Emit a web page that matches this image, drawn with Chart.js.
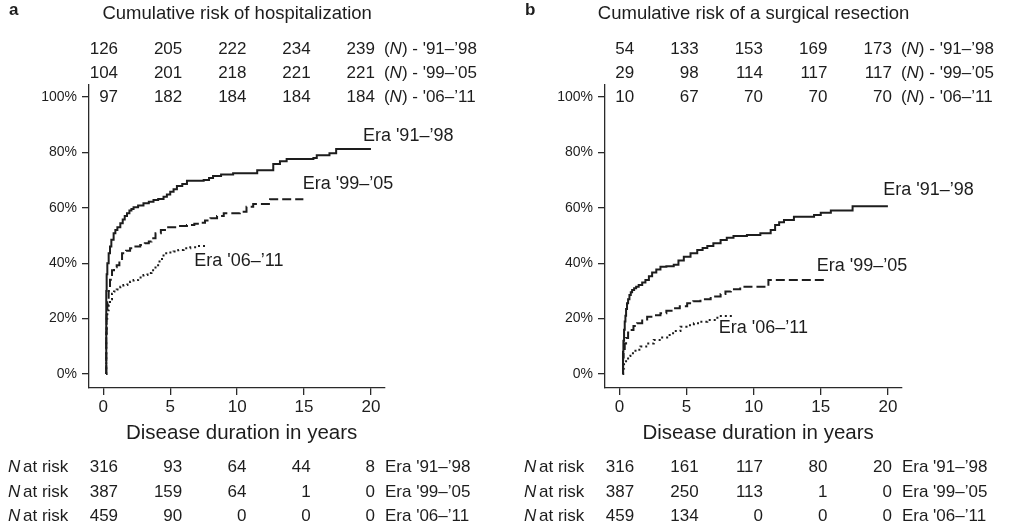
<!DOCTYPE html>
<html>
<head>
<meta charset="utf-8">
<script src="https://cdn.jsdelivr.net/npm/chart.js@4.4.1/dist/chart.umd.min.js"></script>
<style>
  html, body { margin: 0; padding: 0; background: #fff; }
  #wrap { position: relative; width: 1019px; height: 527px; }
  canvas { position: absolute; top: 0; }
</style>
</head>
<body>
<div id="wrap">
  <canvas id="chart-a" width="510" height="527" style="left:0px"></canvas>
  <canvas id="chart-b" width="503" height="527" style="left:516px"></canvas>
</div>
<script>
// years and % from the picture
const eraLabels = ["Era '91–’98", "Era '99–’05", "Era '06–’11"];
const eraShort = ["'91–’98", "'99–’05", "'06–’11"];
const xTicks = [0, 5, 10, 15, 20];
const yTicks = [0, 20, 40, 60, 80, 100];

// a - hospitalization
const hosp91X = [0.2, 0.22, 0.25, 0.3, 0.4, 0.5, 0.6, 0.77, 0.9, 1.05, 1.27, 1.45, 1.6, 1.77, 1.95, 2.1, 2.26, 2.6, 3.0, 3.4, 3.75, 4.1, 4.5, 4.75, 5.0, 5.25, 5.5, 5.9, 6.25, 7.5, 7.9, 8.2, 8.8, 9.7, 11.5, 12.5, 12.7, 13.2, 13.7, 15.7, 15.95, 16.9, 17.4, 20.0];
const hosp91Y = [0, 30, 36, 40, 43.6, 46, 48.5, 50.8, 52, 53, 54.4, 55.8, 57, 58, 59, 59.6, 60.2, 60.8, 61.6, 62.2, 62.8, 63.2, 64, 64.8, 65.8, 66.7, 67.9, 68.6, 69.8, 70, 70.8, 71.5, 72, 72.5, 73.6, 73.6, 75.8, 76.8, 77.6, 78, 79, 79.7, 81.2, 81.2];
const hosp99X = [0.2, 0.22, 0.25, 0.3, 0.4, 0.5, 0.65, 0.8, 1.0, 1.2, 1.4, 1.7, 2.0, 2.4, 2.76, 3.1, 3.4, 3.6, 3.9, 4.3, 4.75, 5.5, 6.25, 6.8, 7.2, 7.6, 8.0, 8.5, 9.0, 10.2, 10.7, 11.2, 12.46, 14.95];
const hosp99Y = [0, 15, 22, 27, 30, 34, 37.5, 38.5, 39.3, 41.5, 43.6, 44.5, 45.4, 46, 46.6, 47.2, 47.8, 49, 50.8, 52, 53, 53.4, 53.8, 54.2, 54.6, 55.4, 56.2, 57, 58, 58.6, 60.4, 61.4, 63.1, 63.1];
const hosp06X = [0.2, 0.22, 0.25, 0.3, 0.4, 0.5, 0.65, 0.8, 1.0, 1.27, 1.5, 1.8, 2.0, 2.26, 2.6, 3.0, 3.3, 3.6, 3.9, 4.2, 4.5, 4.9, 5.25, 5.6, 6.0, 6.5, 7.0, 7.8];
const hosp06Y = [0, 14, 20, 23, 25, 27, 29, 29.8, 30.5, 31.5, 32.1, 32.8, 33.3, 33.9, 34.8, 35.7, 36.5, 37.5, 39.3, 41.5, 43.6, 43.9, 44.2, 44.8, 45.4, 45.8, 46.2, 46.2];
const hospN91 = [126, 205, 222, 234, 239];
const hospN99 = [104, 201, 218, 221, 221];
const hospN06 = [97, 182, 184, 184, 184];
const hospRisk91 = [316, 93, 64, 44, 8];
const hospRisk99 = [387, 159, 64, 1, 0];
const hospRisk06 = [459, 90, 0, 0, 0];

// b - surgical resection
const surg91X = [0.25, 0.27, 0.3, 0.35, 0.4, 0.45, 0.5, 0.57, 0.65, 0.75, 0.85, 0.95, 1.1, 1.25, 1.44, 1.7, 1.94, 2.2, 2.44, 2.75, 3.06, 3.5, 4.05, 4.4, 4.8, 5.3, 5.8, 6.2, 6.55, 7.0, 7.54, 8.0, 8.5, 9.5, 10.5, 11.27, 11.6, 11.9, 12.26, 13.0, 14.5, 15.0, 15.75, 17.37, 20.0];
const surg91Y = [0, 8, 12, 16, 19, 21, 23.5, 25.5, 27, 28.5, 29.5, 30.3, 31, 31.5, 32.1, 33, 33.9, 35.3, 36.6, 37.7, 38.7, 38.9, 39.4, 41, 42.3, 43.6, 44.8, 45.5, 46.2, 47.2, 48.4, 49.2, 49.8, 50.2, 50.8, 52, 53.8, 54.8, 55.6, 56.8, 57.4, 58.2, 59, 60.6, 60.6];
const surg99X = [0.25, 0.28, 0.32, 0.4, 0.5, 0.65, 0.82, 1.05, 1.32, 1.7, 2.07, 2.5, 3.06, 3.5, 4.05, 4.5, 5.05, 5.5, 6.04, 6.8, 7.54, 7.9, 8.3, 9.0, 11.1, 15.25];
const surg99Y = [0, 6, 9, 11, 13, 15, 15.9, 17.3, 18.3, 19.7, 20.7, 21.2, 21.9, 22.8, 23.7, 24.5, 25.5, 26.3, 27, 28, 28.9, 29.8, 30.6, 31.5, 33.9, 33.9];
const surg06X = [0.25, 0.28, 0.35, 0.5, 0.65, 0.82, 1.2, 1.57, 2.0, 2.56, 3.0, 3.56, 4.0, 4.55, 5.0, 5.55, 6.0, 6.55, 7.3, 8.5];
const surg06Y = [0, 2, 3.5, 5, 6.5, 7.5, 8.8, 9.9, 11, 12.3, 13.2, 14.1, 15.5, 17.1, 17.6, 18.3, 18.9, 19.5, 20.9, 20.9];
const surgN91 = [54, 133, 153, 169, 173];
const surgN99 = [29, 98, 114, 117, 117];
const surgN06 = [10, 67, 70, 70, 70];
const surgRisk91 = [316, 161, 117, 80, 20];
const surgRisk99 = [387, 250, 113, 1, 0];
const surgRisk06 = [459, 134, 0, 0, 0];

const ink = '#1d1d1d';
const FAM = '"Liberation Sans", Arial, Helvetica, sans-serif';
const fnt = (size, style) => `${style || ''} ${size}px ${FAM}`;
// right edges of the count columns, in years
const colAt = [1.1, 5.9, 10.7, 15.5, 20.3];

const toPts = (xs, ys) => xs.map((v, i) => ({ x: v, y: ys[i] }));

const lineStyles = [
  { borderDash: [] },
  { borderDash: [9, 4] },
  { borderDash: [2, 3] },
];

const panelText = {
  id: 'panelText',
  afterDraw(chart, args, o) {
    const ctx = chart.ctx;
    const xs = chart.scales.x, ys = chart.scales.y;
    ctx.save();
    ctx.fillStyle = ink;
    ctx.textBaseline = 'middle';

    ctx.font = fnt(17, 'bold');
    ctx.textAlign = 'left';
    ctx.fillText(o.letter, 9, 10);

    ctx.font = fnt(18.5);
    ctx.textAlign = 'center';
    ctx.fillText(o.title, xs.getPixelForValue(10), 14);

    // axis title
    ctx.font = fnt(20.5);
    ctx.fillText('Disease duration in years', xs.getPixelForValue(10) + 4.5, 433);

    // counts above the plot
    const top3 = ys.getPixelForValue(100);
    ctx.font = fnt(17);
    o.counts.forEach((row, r) => {
      const ty = top3 - (2 - r) * 24;
      ctx.textAlign = 'right';
      row.forEach((v, k) => ctx.fillText(String(v), xs.getPixelForValue(colAt[k]), ty));
      let tx = xs.getPixelForValue(colAt[4]) + 9;
      ctx.textAlign = 'left';
      ctx.fillText('(', tx, ty); tx += ctx.measureText('(').width;
      ctx.font = fnt(17, 'italic');
      ctx.fillText('N', tx, ty); tx += ctx.measureText('N').width;
      ctx.font = fnt(17);
      ctx.fillText(') - ' + eraShort[r], tx, ty);
    });

    // at-risk table
    o.risk.forEach((row, r) => {
      const ty = 467.5 + r * 24.5;
      ctx.textAlign = 'left';
      ctx.font = fnt(17, 'italic');
      ctx.fillText('N', 8, ty);
      const w = ctx.measureText('N').width;
      ctx.font = fnt(17);
      ctx.fillText(' at risk', 8 + w - 2, ty);
      ctx.textAlign = 'right';
      row.forEach((v, k) => ctx.fillText(String(v), xs.getPixelForValue(colAt[k]), ty));
      ctx.textAlign = 'left';
      ctx.fillText(eraLabels[r], xs.getPixelForValue(colAt[4]) + 10, ty);
    });

    // curve labels
    ctx.font = fnt(18);
    ctx.textAlign = 'left';
    o.tags.forEach((t, r) => {
      ctx.fillText(eraLabels[r], xs.getPixelForValue(t[0]), ys.getPixelForValue(t[1]));
    });
    ctx.restore();
  }
};

function makeChart(id, curves, rightPad, text) {
  const datasets = curves.map((pts, i) => ({
    data: pts,
    borderColor: ink,
    borderWidth: 2,
    borderDash: lineStyles[i].borderDash,
    stepped: true,
    pointRadius: 0,
    fill: false,
  }));
  return new Chart(document.getElementById(id), {
    type: 'line',
    data: { datasets },
    plugins: [panelText],
    options: {
      responsive: false,
      animation: false,
      layout: { padding: { left: 0, right: rightPad, top: 85, bottom: 82 } },
      scales: {
        x: {
          type: 'linear',
          min: -1.07,
          max: 21.05,
          afterBuildTicks: s => { s.ticks = xTicks.map(v => ({ value: v })); },
          afterFit: s => { s.height = 57; },
          border: { display: true, color: '#2a2a2a', width: 1.3 },
          grid: { drawOnChartArea: false, drawTicks: true, tickLength: 7, color: '#2a2a2a', lineWidth: 1.3 },
          ticks: { color: ink, font: { family: FAM, size: 17 }, padding: 2, maxRotation: 0 },
        },
        y: {
          min: -5.05,
          max: 104.33,
          afterBuildTicks: s => { s.ticks = yTicks.map(v => ({ value: v })); },
          afterFit: s => { s.width = 89; },
          border: { display: true, color: '#2a2a2a', width: 1.3 },
          grid: { drawOnChartArea: false, drawTicks: true, tickLength: 7, color: '#2a2a2a', lineWidth: 1.3 },
          ticks: { color: ink, font: { family: FAM, size: 14 }, padding: 5, callback: v => v + '%' },
        },
      },
      plugins: {
        legend: { display: false },
        tooltip: { enabled: false },
        panelText: text,
      },
    },
  });
}

makeChart('chart-a',
  [toPts(hosp91X, hosp91Y), toPts(hosp99X, hosp99Y), toPts(hosp06X, hosp06Y)],
  125,
  {
    letter: 'a',
    title: 'Cumulative risk of hospitalization',
    counts: [hospN91, hospN99, hospN06],
    risk: [hospRisk91, hospRisk99, hospRisk06],
    tags: [[19.4, 86], [14.9, 68.6], [6.8, 40.8]],
  });

makeChart('chart-b',
  [toPts(surg91X, surg91Y), toPts(surg99X, surg99Y), toPts(surg06X, surg06Y)],
  117,
  {
    letter: 'b',
    title: 'Cumulative risk of a surgical resection',
    counts: [surgN91, surgN99, surgN06],
    risk: [surgRisk91, surgRisk99, surgRisk06],
    tags: [[19.65, 66.4], [14.7, 39], [7.4, 16.6]],
  });
</script>
</body>
</html>
